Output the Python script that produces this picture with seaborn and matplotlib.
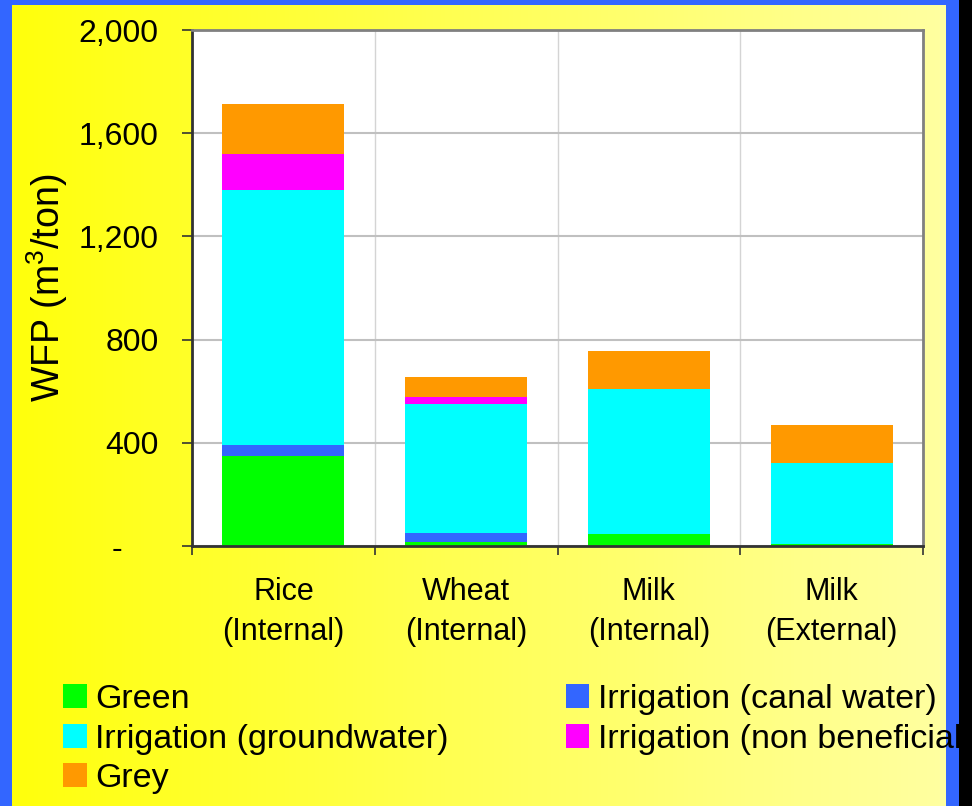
import numpy as np
import pandas as pd

import matplotlib
matplotlib.use('Agg')

from matplotlib import pyplot as plt
from matplotlib.patches import Patch, Rectangle
import seaborn as sns

# values (m3/ton)
categories = ['Rice\n(Internal)', 'Wheat\n(Internal)', 'Milk\n(Internal)', 'Milk\n(External)']
green = [350, 15, 46, 8]
canal_water = [42, 34, 0, 0]
groundwater = [988, 502, 561, 314]
non_beneficial = [140, 27, 0, 0]
grey = [194, 78, 149, 148]

series_names = ['Green', 'Irrigation (canal water)', 'Irrigation (groundwater)',
                'Irrigation (non beneficial)', 'Grey']
series_colors = ['#00FF00', '#3366FF', '#00FFFF', '#FF00FF', '#FF9900']
legend_order = ['Green', 'Irrigation (groundwater)', 'Grey',
                'Irrigation (canal water)', 'Irrigation (non beneficial)']
y_ticks = [0, 400, 800, 1200, 1600, 2000]
y_tick_labels = ['-    ', '400', '800', '1,200', '1,600', '2,000']

df = pd.DataFrame({'category': categories, 'Green': green,
                   'Irrigation (canal water)': canal_water,
                   'Irrigation (groundwater)': groundwater,
                   'Irrigation (non beneficial)': non_beneficial,
                   'Grey': grey})
cum = df[series_names].cumsum(axis=1)
cum['category'] = df['category']

sns.set_style('white')
plt.rcParams['font.family'] = ['Liberation Sans', 'DejaVu Sans']
plt.rcParams['mathtext.fontset'] = 'custom'
plt.rcParams['mathtext.rm'] = 'Liberation Sans'
plt.rcParams['mathtext.it'] = 'Liberation Sans'
plt.rcParams['text.color'] = 'black'
plt.rcParams['axes.labelcolor'] = 'black'
plt.rcParams['xtick.color'] = 'black'
plt.rcParams['ytick.color'] = 'black'

fig = plt.figure(figsize=(9.72, 8.06), dpi=100)

# yellow gradient slide background
bg_ax = fig.add_axes([0, 0, 1, 1], zorder=-5)
grad = np.linspace(0, 1, 256)
left_col = np.array([255, 255, 10]) / 255.0
right_col = np.array([255, 255, 165]) / 255.0
img = left_col[None, :] * (1 - grad[:, None]) + right_col[None, :] * grad[:, None]
bg_ax.imshow(img[None, :, :], aspect='auto', extent=[0, 1, 0, 1])
bg_ax.set_axis_off()

ax = fig.add_axes([192 / 972, 1 - 546 / 806, 731 / 972, 516 / 806], zorder=1)
ax.set_facecolor('white')

# stacked bars: draw cumulative totals from the top down
for name, color in reversed(list(zip(series_names, series_colors))):
    sns.barplot(data=cum, x='category', y=name, color=color, saturation=1,
                width=0.667, edgecolor='none', linewidth=0, ax=ax, zorder=2)

ax.set_xlim(-0.5, 3.5)
ax.set_ylim(0, 2000)
ax.set_yticks(y_ticks)
ax.set_yticklabels(y_tick_labels, fontsize=23)
ax.set_xticks(range(len(categories)))
ax.set_xticklabels(categories, fontsize=22, linespacing=1.45)
ax.set_xticks(np.arange(-0.5, 4.0, 1.0), minor=True)
ax.tick_params(axis='x', which='major', bottom=True, length=0, pad=22)
ax.tick_params(axis='x', which='minor', bottom=True, length=6.5, width=1.2,
               color='#333333', direction='out')
ax.tick_params(axis='y', which='major', left=True, length=7.2, width=1.2,
               color='#333333', direction='out', pad=17)
ax.set_xlabel('')
ax.set_ylabel('WFP (m$^3$/ton)', fontsize=27, labelpad=6)

ax.grid(axis='y', which='major', color='#C0C0C0', linewidth=1.5, zorder=0)
ax.grid(axis='x', which='minor', color='#D4D4D4', linewidth=1, zorder=0)
ax.set_axisbelow(True)

for side in ['left', 'bottom']:
    ax.spines[side].set_color('#333333')
    ax.spines[side].set_linewidth(2)
for side in ['top', 'right']:
    ax.spines[side].set_visible(True)
    ax.spines[side].set_color('#808080')
    ax.spines[side].set_linewidth(2)

# blue slide border (under the legend, the legend text runs over it)
blue = '#3366FF'
for rect in [(0, 0, 12, 806), (946, 0, 13, 806), (0, 0, 972, 5)]:
    x0, y0, w, h = rect
    fig.patches.append(Rectangle((x0 / 972, 1 - (y0 + h) / 806), w / 972, h / 806,
                                 transform=fig.transFigure, facecolor=blue,
                                 edgecolor='none', zorder=3))

color_map = dict(zip(series_names, series_colors))
handles = [Patch(facecolor=color_map[n], edgecolor='none', label=n) for n in legend_order]
fig.legend(handles=handles, loc='upper left', bbox_to_anchor=(63 / 972, 1 - 684 / 806),
           ncol=2, frameon=False, fontsize=24.5, handlelength=0.7, handleheight=0.7,
           handletextpad=0.25, columnspacing=3.43, labelspacing=0.25,
           borderpad=0, borderaxespad=0)

# dark strip at the far right edge of the slide
fig.patches.append(Rectangle((959 / 972, 0), 13 / 972, 1, transform=fig.transFigure,
                             facecolor='black', edgecolor='none', zorder=20))

fig.savefig('out.png', dpi=100)
plt.close(fig)
